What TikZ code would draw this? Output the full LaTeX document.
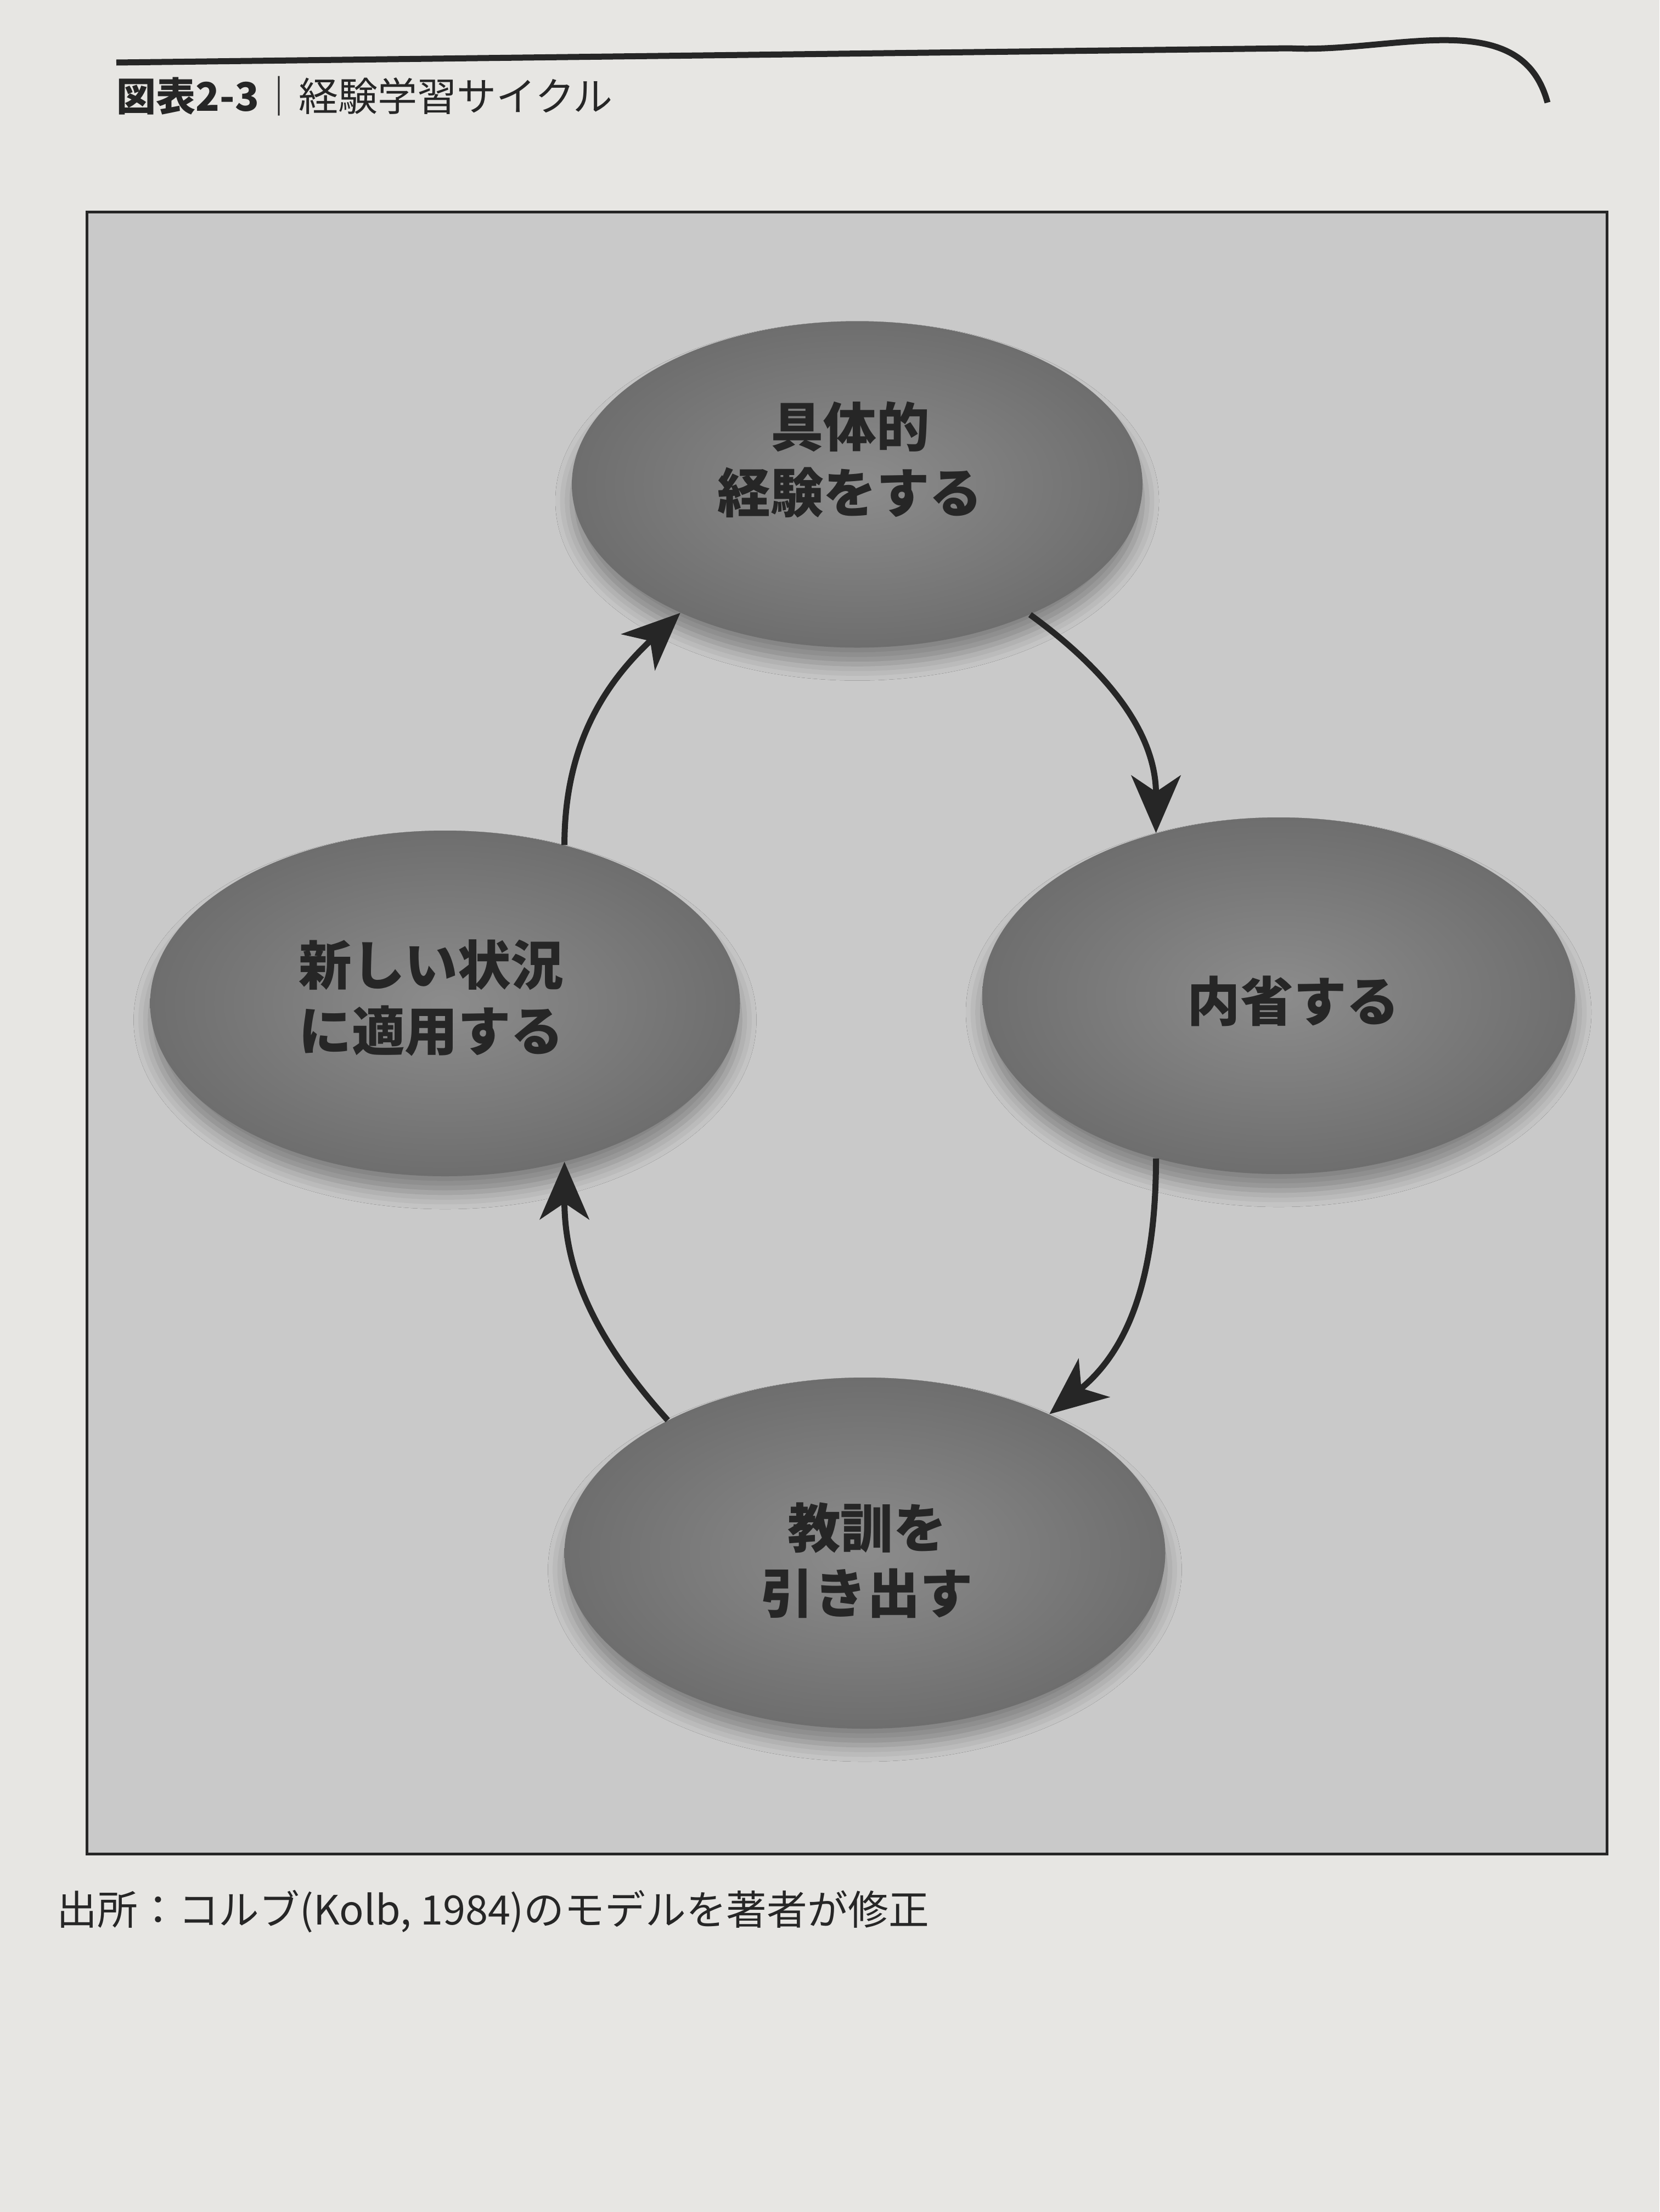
\documentclass[tikz,border=0pt]{standalone}
\usepackage{fontspec}
\setmainfont{Noto Sans CJK JP}
\usetikzlibrary{positioning,shapes.geometric,arrows.meta,shadows.blur}

\definecolor{paper}{HTML}{E7E6E3}
\definecolor{panel}{HTML}{C9C9C9}
\definecolor{ink}{HTML}{262626}
\definecolor{blobIn}{HTML}{8C8C8C}
\definecolor{blobOut}{HTML}{6E6E6E}

\tikzset{
  blob/.style={ellipse, inner sep=0pt, shade, inner color=blobIn, outer color=blobOut,
    blur shadow={shadow xshift=0cm, shadow yshift=-0.3cm, shadow blur radius=0.3cm, shadow opacity=35}},
  blobtext/.style={align=center, inner sep=0pt, text=ink, font=\bfseries\fontsize{27.5}{34}\selectfont},
  cyclearrow/.style={draw=ink, line width=0.11cm, -{Stealth[length=1.05cm, width=0.9cm, inset=0.3cm]}},
}

\begin{document}
\begin{tikzpicture}
    \fill[paper] (0,0) rectangle (30.24,-40.32);
    \useasboundingbox (0,0) rectangle (30.24,-40.32);

    % heading
    \draw[ink, line width=0.11cm] (2.12,-1.14) -- (23.5,-0.88) to[out=-3,in=105] (28.2,-1.87);
    \node (title) [anchor=west, inner sep=0pt, text=ink, font=\fontsize{20.5}{24}\selectfont] at (2.12,-1.75) {{\bfseries 図表2-3}｜経験学習サイクル};

    % panel
    \draw[draw=ink, line width=0.05cm, fill=panel] (1.58,-3.86) rectangle (29.28,-33.79);

    % ellipses
    \node (concExp) [blob, minimum width=10.4cm, minimum height=5.95cm] at (15.62,-8.83) {};
    \node (reflect) [blob, minimum width=10.8cm, minimum height=6.5cm] at (23.30,-18.15) {};
    \node (lesson) [blob, minimum width=10.95cm, minimum height=6.4cm] at (15.76,-28.31) {};
    \node (apply) [blob, minimum width=10.75cm, minimum height=6.3cm] at (8.11,-18.29) {};

    \node (concExpTxt) [blobtext] at (15.49,-8.38) {具体的\\経験をする};
    \node (reflectTxt) [blobtext] at (23.57,-18.25) {内省する};
    \node (lessonTxt) [blobtext] at (15.80,-28.44) {教訓を\\引き出す};
    \node (applyTxt) [blobtext] at (7.86,-18.19) {新しい状況\\に適用する};

    % cycle
    \draw[cyclearrow] (concExp.-37) to[out=-36,in=90] (reflect.127);
    \draw[cyclearrow] (reflect.-127) to[out=-90,in=39] (lesson.37);
    \draw[cyclearrow] (lesson.146) to[out=132,in=-90] (apply.-53);
    \draw[cyclearrow] (apply.53) to[out=90,in=-137] (concExp.-144);

    % source
    \node (source) [anchor=west, inner sep=0pt, text=ink, font=\fontsize{21}{25}\selectfont] at (1.03,-34.84) {出所：コルブ(Kolb, 1984)のモデルを著者が修正};
\end{tikzpicture}
\end{document}
